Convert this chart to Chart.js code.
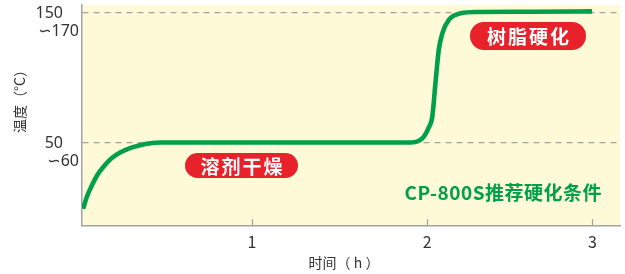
<!DOCTYPE html>
<html><head><meta charset="utf-8">
<script src="https://cdn.jsdelivr.net/npm/chart.js@4.4.1/dist/chart.umd.min.js"></script>
<style>html,body{margin:0;padding:0;background:#fff}#wrap{width:625px;height:274px}</style>
</head><body><div id="wrap"><canvas id="c" width="625" height="274"></canvas></div>
<script>
// time axis position (hours as drawn in the schematic)
const timeH = [0.036, 0.06, 0.09, 0.12, 0.16, 0.2, 0.25, 0.3, 0.35, 0.4, 0.48, 1.2, 1.905, 1.95, 1.981, 2.007, 2.029, 2.047, 2.066, 2.086, 2.123, 2.19, 2.286, 2.6, 2.94];
// temperature (relative scale)
const tempC = [-1, 9, 18, 25.5, 32.5, 38, 42.5, 45.5, 47.5, 49, 50, 50, 50, 51.2, 54.5, 61, 70, 96, 121.5, 134, 144.4, 149.5, 150.5, 150.7, 151];
// tick "3" sits a little closer to "2" in the original schematic
const xTickValues = [1, 2, 2.943];
const xTickLabels = ['1', '2', '3'];
const yTickValues = [50, 150];
const yTickLabels = [['50\u3000', '∽60'], ['150\u3000', '∽170']];
const yTitle = '温度（°C）';
const xTitle = '时间（ h ）';
const stageLabels = ['溶剂干燥', '树脂硬化'];
const noteText = 'CP-800S推荐硬化条件';

const FONT = '"Noto Sans CJK SC", "Noto Sans", sans-serif';
const TICKFONT = '"Noto Sans", "DejaVu Sans", "Noto Sans CJK SC", sans-serif';
const GREEN = '#00a04a';
const RED = '#e8212a';
const GRAY = '#a3a3a3';

const decor = {
  id: 'decor',
  beforeDraw(chart) {
    const {ctx, chartArea: a} = chart;
    ctx.save();
    ctx.fillStyle = '#fef9d6';
    ctx.fillRect(a.left, a.top, a.right - a.left, a.bottom - a.top);
    ctx.restore();
  },
  afterDraw(chart) {
    const {ctx, chartArea: a} = chart;
    const xs = chart.scales.x;
    ctx.save();
    ctx.strokeStyle = GRAY; ctx.lineWidth = 1.2;
    xTickValues.forEach(v => {
      const px = Math.round(xs.getPixelForValue(v)) + 0.5;
      ctx.beginPath(); ctx.moveTo(px, a.bottom); ctx.lineTo(px, a.bottom - 7); ctx.stroke();
    });
    ctx.fillStyle = '#333';
    ctx.font = '14px ' + FONT;
    ctx.textAlign = 'center'; ctx.textBaseline = 'middle';
    ctx.fillText(xTitle, 344, 263);
    ctx.save();
    ctx.translate(20, 98); ctx.rotate(-Math.PI / 2);
    ctx.fillText(yTitle, 0, 0);
    ctx.restore();
    const pill = (cx, cy, w, h, t) => {
      const r = h / 2;
      ctx.fillStyle = RED;
      ctx.beginPath();
      ctx.moveTo(cx - w / 2 + r, cy - r);
      ctx.lineTo(cx + w / 2 - r, cy - r);
      ctx.arc(cx + w / 2 - r, cy, r, -Math.PI / 2, Math.PI / 2);
      ctx.lineTo(cx - w / 2 + r, cy + r);
      ctx.arc(cx - w / 2 + r, cy, r, Math.PI / 2, Math.PI * 1.5);
      ctx.closePath(); ctx.fill();
      ctx.fillStyle = '#fff';
      ctx.font = 'bold 19px ' + FONT;
      ctx.letterSpacing = '2px';
      ctx.textAlign = 'center'; ctx.textBaseline = 'middle';
      ctx.fillText(t, cx + 1, cy + 1);
      ctx.letterSpacing = '0px';
    };
    pill(241.5, 165.5, 113, 25, stageLabels[0]);
    pill(528, 36, 116, 28, stageLabels[1]);
    ctx.fillStyle = GREEN;
    ctx.font = 'bold 19px ' + FONT;
    ctx.letterSpacing = '0.5px';
    ctx.textAlign = 'right'; ctx.textBaseline = 'middle';
    ctx.fillText(noteText, 602, 193);
    ctx.restore();
  }
};

new Chart(document.getElementById('c'), {
  type: 'line',
  data: {
    datasets: [{
      data: timeH.map((x, i) => ({x, y: tempC[i]})),
      borderColor: GREEN,
      borderWidth: 4.6,
      pointRadius: 0,
      fill: false,
      cubicInterpolationMode: 'monotone',
      borderCapStyle: 'butt'
    }]
  },
  options: {
    responsive: false,
    animation: false,
    events: [],
    layout: {padding: {top: 5, right: 5, left: 0, bottom: 0}},
    plugins: {legend: {display: false}, tooltip: {enabled: false}},
    scales: {
      x: {
        type: 'linear', min: 0.03, max: 3.1,
        afterBuildTicks: s => { s.ticks = xTickValues.map(v => ({value: v})); },
        afterFit: s => { s.height = 48; s.paddingLeft = 0; s.paddingRight = 0; },
        grid: {display: false, drawTicks: false},
        border: {display: true, color: GRAY, width: 1.5},
        ticks: {
          padding: 6, color: '#333', font: {family: FONT, size: 16},
          maxRotation: 0,
          callback: (v) => xTickLabels[xTickValues.indexOf(v)]
        }
      },
      y: {
        min: -14.3, max: 155.9,
        afterBuildTicks: s => { s.ticks = yTickValues.map(v => ({value: v})); },
        afterFit: s => { s.width = 82; s.paddingTop = 0; s.paddingBottom = 0; },
        grid: {color: GRAY, lineWidth: 1.2, drawTicks: false},
        border: {display: true, color: GRAY, width: 1.5, dash: [6, 5]},
        ticks: {
          padding: 3, color: '#333', labelOffset: 9.5,
          font: {family: TICKFONT, size: 16, lineHeight: 1.125},
          callback: (v) => yTickLabels[yTickValues.indexOf(v)]
        }
      }
    }
  },
  plugins: [decor]
});
</script></body></html>
